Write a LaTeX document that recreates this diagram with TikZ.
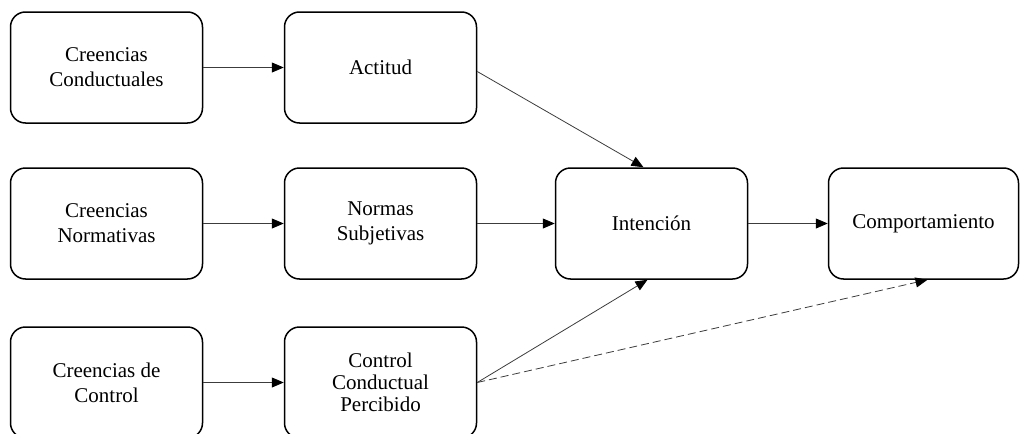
\documentclass[tikz,border=0pt]{standalone}
\usepackage{fontspec}
\setmainfont{Liberation Serif}
\usetikzlibrary{arrows.meta}
\definecolor{LineGray}{RGB}{60,60,60}

\begin{document}
\begin{tikzpicture}[x=1pt, y=-1pt,
	box/.style={draw, line width=1.5pt, rounded corners=15pt, minimum width=192pt, minimum height=111pt,
		inner sep=0pt, align=center, font=\fontsize{21}{25}\selectfont},
	link/.style={draw=LineGray, line width=0.8pt, -{Triangle[length=12pt, width=10pt, black]}}]
	\useasboundingbox (0,0) rectangle (1021,434);
	
	% 信念
	\node[box] (cc) at (106.5,67.5) {Creencias\\Conductuales};
	\node[box] (cn) at (106.5,223.5) {Creencias\\Normativas};
	\node[box] (cdc) at (106.5,382.5) {Creencias de\\Control};
	
	% 中间变量
	\node[box] (act) at (380.5,67.5) {Actitud};
	\node[box] (ns) at (380.5,223.5) {Normas\\Subjetivas};
	\node[box, font=\fontsize{21}{22}\selectfont] (ccp) at (380.5,382.5) {Control\\Conductual\\Percibido};
	
	% 意向与行为
	\node[box] (int) at (651.5,223.5) {Intención};
	\node[box, minimum width=190pt] (comp) at (923.5,223.5) {Comportamiento};
	
	% 连线
	\draw[link] (cc) -- (act);
	\draw[link] (cn) -- (ns);
	\draw[link] (cdc) -- (ccp);
	\draw[link] ([yshift=-4pt]act.east) -- ([xshift=-8pt]int.north);
	\draw[link] (ns) -- (int);
	\draw[link] (ccp.east) -- ([xshift=-4pt]int.south);
	\draw[link] (int) -- (comp);
	\draw[link, dash pattern=on 8pt off 4pt] (ccp.east) -- ([xshift=4pt]comp.south);
\end{tikzpicture}
\end{document}
